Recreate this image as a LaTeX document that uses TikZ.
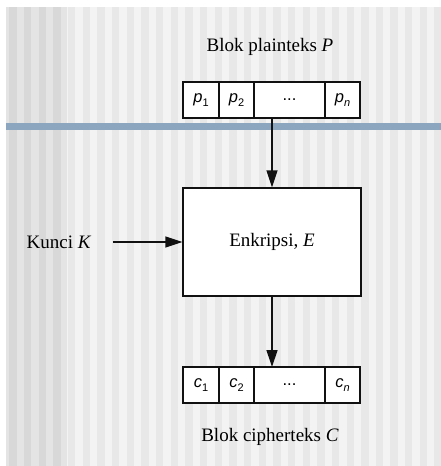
\documentclass[tikz,border=0pt]{standalone}
\usepackage{fontspec}
\setmainfont{Liberation Serif}
\setsansfont{Liberation Sans}
\usetikzlibrary{arrows.meta}
\definecolor{ink}{HTML}{111111}
\definecolor{bgdark}{HTML}{E4E4E4}
\definecolor{bgdarkline}{HTML}{D8D8D8}
\definecolor{bglight}{HTML}{F3F3F3}
\definecolor{bglightline}{HTML}{E8E8E8}
\definecolor{bar}{HTML}{8DA6BF}
\newcommand{\blk}[2]{\textit{#1}\raisebox{-0.4ex}{\fontsize{11}{11}\selectfont #2}}

\begin{document}
\begin{tikzpicture}[x=1pt,y=-1pt,>={Triangle[length=17pt,width=11pt]},
  cell/.style={draw=ink,line width=1.3pt,fill=white,minimum height=36pt,
    inner sep=0pt,outer sep=0pt,anchor=west,font=\sffamily\fontsize{16.5}{18}\selectfont},
  lbl/.style={font=\fontsize{19}{22}\selectfont}]
 \def\stripe{7.33}
 \useasboundingbox (0,0) rectangle (441,466);
 \fill[white] (0,0) rectangle (441,466);
 \begin{scope}
  \clip (6,7) rectangle (441,466);
  \fill[bgdark] (6,7) rectangle (67,466);
  \fill[bglight] (67,7) rectangle (441,466);
  \foreach \i in {0,...,3}
   \fill[bgdarkline] ({9.33+2*\stripe*\i},7) rectangle ({9.33+2*\stripe*\i+\stripe},466);
  \foreach \i in {4,...,29}
   \fill[bglightline] ({9.33+2*\stripe*\i},7) rectangle ({9.33+2*\stripe*\i+\stripe},466);
 \end{scope}
 \fill[bar] (6,123) rectangle (441,130);

 \node[lbl] (plain) at (270,47) {Blok plainteks \textit{P}};
 \node[cell,minimum width=36pt] (p1) at (183,100) {\blk{p}{1}};
 \node[cell,minimum width=35pt] (p2) at (p1.east) {\blk{p}{2}};
 \node[cell,minimum width=71pt] (pdots) at (p2.east) {...};
 \node[cell,minimum width=35pt] (pn) at (pdots.east) {\blk{p}{\textit{n}}};

 \node[draw=ink,line width=1.3pt,fill=white,minimum width=178pt,minimum height=108pt,
   lbl] (enc) at (272,242) {Enkripsi, \textit{E}};
 \node[lbl] (kunci) at (59,242) {Kunci \textit{K}};

 \node[cell,minimum width=36pt] (c1) at (183,385) {\blk{c}{1}};
 \node[cell,minimum width=35pt] (c2) at (c1.east) {\blk{c}{2}};
 \node[cell,minimum width=71pt] (cdots) at (c2.east) {...};
 \node[cell,minimum width=35pt] (cn) at (cdots.east) {\blk{c}{\textit{n}}};
 \node[lbl] (cipher) at (270,437) {Blok cipherteks \textit{C}};

 \draw[->,ink,line width=1.3pt] (enc.north |- pdots.south) -- (enc.north);
 \draw[->,ink,line width=1.3pt,shorten <=18pt] (kunci) -- (enc.west);
 \draw[->,ink,line width=1.3pt] (enc.south) -- (enc.south |- cdots.north);
\end{tikzpicture}
\end{document}
